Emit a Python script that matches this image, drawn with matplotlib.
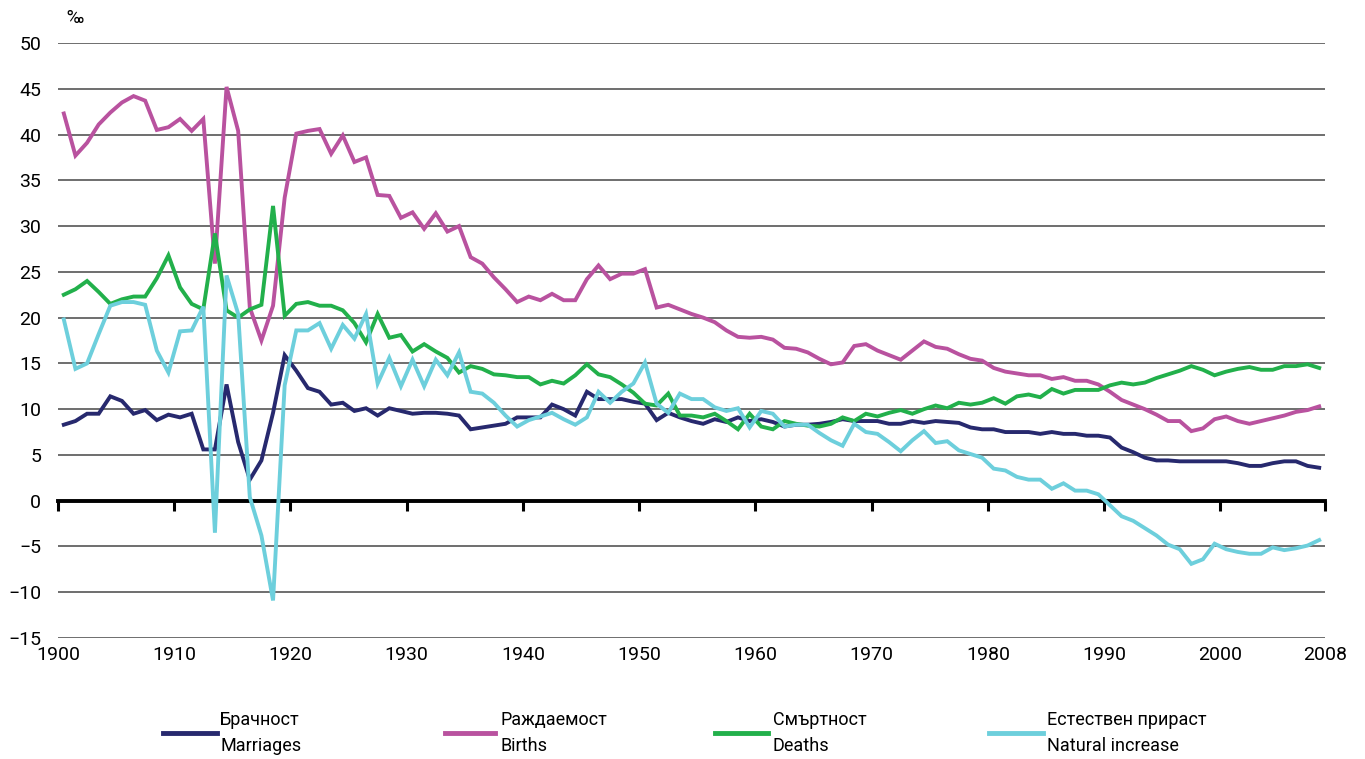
import matplotlib
matplotlib.use('Agg')
import matplotlib.pyplot as plt
from matplotlib.lines import Line2D
import numpy as np

plt.rcParams['font.family'] = ['Roboto', 'DejaVu Sans']

years = list(range(1900, 2009))

# per mille values, 1900..2008
marriages = [8.3, 8.7, 9.5, 9.5, 11.4, 10.9, 9.5, 9.9, 8.8, 9.4,
             9.1, 9.5, 5.6, 5.6, 12.7, 6.4, 2.3, 4.4, 9.6, 15.9,
             14.2, 12.3, 11.9, 10.5, 10.7, 9.8, 10.1, 9.3, 10.1, 9.8,
             9.5, 9.6, 9.6, 9.5, 9.3, 7.8, 8.0, 8.2, 8.4, 9.1,
             9.1, 9.1, 10.5, 10.0, 9.3, 11.9, 11.1, 11.1, 11.1, 10.8,
             10.6, 8.8, 9.6, 9.1, 8.7, 8.4, 8.9, 8.6, 9.1, 8.7,
             8.9, 8.6, 8.1, 8.3, 8.3, 8.4, 8.6, 8.9, 8.7, 8.7,
             8.7, 8.4, 8.4, 8.7, 8.5, 8.7, 8.6, 8.5, 8.0, 7.8,
             7.8, 7.5, 7.5, 7.5, 7.3, 7.5, 7.3, 7.3, 7.1, 7.1,
             6.9, 5.8, 5.3, 4.7, 4.4, 4.4, 4.3, 4.3, 4.3, 4.3,
             4.3, 4.1, 3.8, 3.8, 4.1, 4.3, 4.3, 3.8, 3.6]

births = [42.3, 37.7, 39.1, 41.1, 42.4, 43.5, 44.2, 43.7, 40.5, 40.8,
          41.7, 40.4, 41.7, 25.9, 45.2, 40.4, 21.1, 17.5, 21.3, 33.1,
          40.1, 40.4, 40.6, 37.9, 39.9, 37.0, 37.5, 33.4, 33.3, 30.9,
          31.5, 29.7, 31.4, 29.4, 30.0, 26.6, 25.9, 24.4, 23.1, 21.7,
          22.3, 21.9, 22.6, 21.9, 21.9, 24.2, 25.7, 24.2, 24.8, 24.8,
          25.3, 21.1, 21.4, 20.9, 20.4, 20.0, 19.5, 18.6, 17.9, 17.8,
          17.9, 17.6, 16.7, 16.6, 16.2, 15.5, 14.9, 15.1, 16.9, 17.1,
          16.4, 15.9, 15.4, 16.4, 17.4, 16.8, 16.6, 16.0, 15.5, 15.3,
          14.5, 14.1, 13.9, 13.7, 13.7, 13.3, 13.5, 13.1, 13.1, 12.7,
          11.9, 11.0, 10.5, 10.0, 9.4, 8.7, 8.7, 7.6, 7.9, 8.9,
          9.2, 8.7, 8.4, 8.7, 9.0, 9.3, 9.7, 9.9, 10.3]

deaths = [22.5, 23.1, 24.0, 22.8, 21.5, 22.0, 22.3, 22.3, 24.3, 26.8,
          23.3, 21.5, 20.9, 29.2, 20.8, 20.0, 20.9, 21.4, 32.2, 20.2,
          21.5, 21.7, 21.3, 21.3, 20.8, 19.4, 17.3, 20.4, 17.8, 18.1,
          16.3, 17.1, 16.3, 15.6, 14.0, 14.7, 14.4, 13.8, 13.7, 13.5,
          13.5, 12.7, 13.1, 12.8, 13.7, 14.9, 13.8, 13.5, 12.7, 11.8,
          10.6, 10.4, 11.7, 9.3, 9.3, 9.1, 9.5, 8.7, 7.8, 9.5,
          8.1, 7.8, 8.7, 8.4, 8.2, 8.1, 8.4, 9.1, 8.7, 9.5,
          9.2, 9.6, 9.9, 9.5, 10.0, 10.4, 10.1, 10.7, 10.5, 10.7,
          11.2, 10.6, 11.4, 11.6, 11.3, 12.2, 11.7, 12.1, 12.1, 12.1,
          12.6, 12.9, 12.7, 12.9, 13.4, 13.8, 14.2, 14.7, 14.3, 13.7,
          14.1, 14.4, 14.6, 14.3, 14.3, 14.7, 14.7, 14.9, 14.5]

natural = [19.8, 14.4, 15.0, 18.2, 21.3, 21.7, 21.7, 21.4, 16.4, 14.0,
           18.5, 18.6, 21.2, -3.5, 24.6, 20.4, 0.4, -3.8, -10.9, 12.6,
           18.6, 18.6, 19.4, 16.6, 19.2, 17.7, 20.4, 12.8, 15.6, 12.5,
           15.4, 12.5, 15.4, 13.7, 16.2, 11.9, 11.7, 10.7, 9.3, 8.1,
           8.8, 9.2, 9.6, 8.9, 8.3, 9.1, 11.9, 10.7, 11.9, 12.8,
           15.1, 10.6, 9.6, 11.7, 11.1, 11.1, 10.2, 9.8, 10.1, 8.0,
           9.8, 9.5, 8.1, 8.3, 8.3, 7.4, 6.6, 6.0, 8.4, 7.5,
           7.3, 6.4, 5.4, 6.6, 7.6, 6.3, 6.5, 5.5, 5.1, 4.7,
           3.5, 3.3, 2.6, 2.3, 2.3, 1.3, 1.9, 1.1, 1.1, 0.7,
           -0.5, -1.7, -2.2, -3.0, -3.8, -4.8, -5.3, -6.9, -6.4, -4.7,
           -5.3, -5.6, -5.8, -5.8, -5.1, -5.4, -5.2, -4.9, -4.3]

series_bg = ['Брачност', 'Раждаемост', 'Смъртност', 'Естествен прираст']
series_en = ['Marriages', 'Births', 'Deaths', 'Natural increase']
colors = ['#27296e', '#b9529f', '#22b04b', '#6dcfdc']

tick_years = [1900, 1910, 1920, 1930, 1940, 1950, 1960, 1970, 1980, 1990, 2000]

fig = plt.figure(figsize=(13.65, 7.59), dpi=100)
ax = fig.add_axes([58 / 1365, 1 - 638 / 759, 1267 / 1365, 595 / 759])

for vals, c in zip([marriages, births, deaths, natural], colors):
    ax.plot(years, vals, color=c, lw=2.8, solid_joinstyle='miter', zorder=3)

ax.set_xlim(1899.5, 2008.5)
ax.set_ylim(-15, 50)
ax.set_yticks(np.arange(-15, 51, 5))
ax.tick_params(axis='y', length=0, pad=12, labelsize=14)
ax.grid(axis='y', color='#555555', lw=1.2)
ax.set_axisbelow(True)

for s in ['left', 'right', 'top']:
    ax.spines[s].set_visible(False)
ax.spines['bottom'].set_position(('data', 0))
ax.spines['bottom'].set_linewidth(2.8)
ax.spines['bottom'].set_zorder(2)

# tick marks on the zero line, labels at the bottom
tick_pos = [y - 0.5 for y in tick_years] + [2008.5]
tick_lbl = [str(y) for y in tick_years] + ['2008']
ax.set_xticks(tick_pos)
ax.set_xticklabels([])
ax.tick_params(axis='x', direction='in', length=7, width=2.2, top=False)
ax.tick_params(axis='x', which='major', direction='out')

sec = ax.secondary_xaxis('bottom')
sec.spines['bottom'].set_visible(False)
sec.set_xticks(tick_pos)
sec.set_xticklabels(tick_lbl)
sec.tick_params(length=0, pad=6, labelsize=14)

fig.text(75 / 1365, 1 - 18 / 759, '‰', ha='center', va='center', fontsize=13)

# legend
leg_lines = [(163, 217), (445, 495), (715, 768), (989, 1043)]
leg_text_x = [220, 501, 773, 1047]
for (x0, x1), tx, bg, en, c in zip(leg_lines, leg_text_x, series_bg, series_en, colors):
    fig.add_artist(Line2D([x0 / 1365, x1 / 1365], [1 - 733 / 759] * 2,
                          color=c, lw=3.5, transform=fig.transFigure))
    fig.text(tx / 1365, 1 - 720 / 759, bg, ha='left', va='center', fontsize=13)
    fig.text(tx / 1365, 1 - 746 / 759, en, ha='left', va='center', fontsize=13)

fig.savefig('out.png', dpi=100)
